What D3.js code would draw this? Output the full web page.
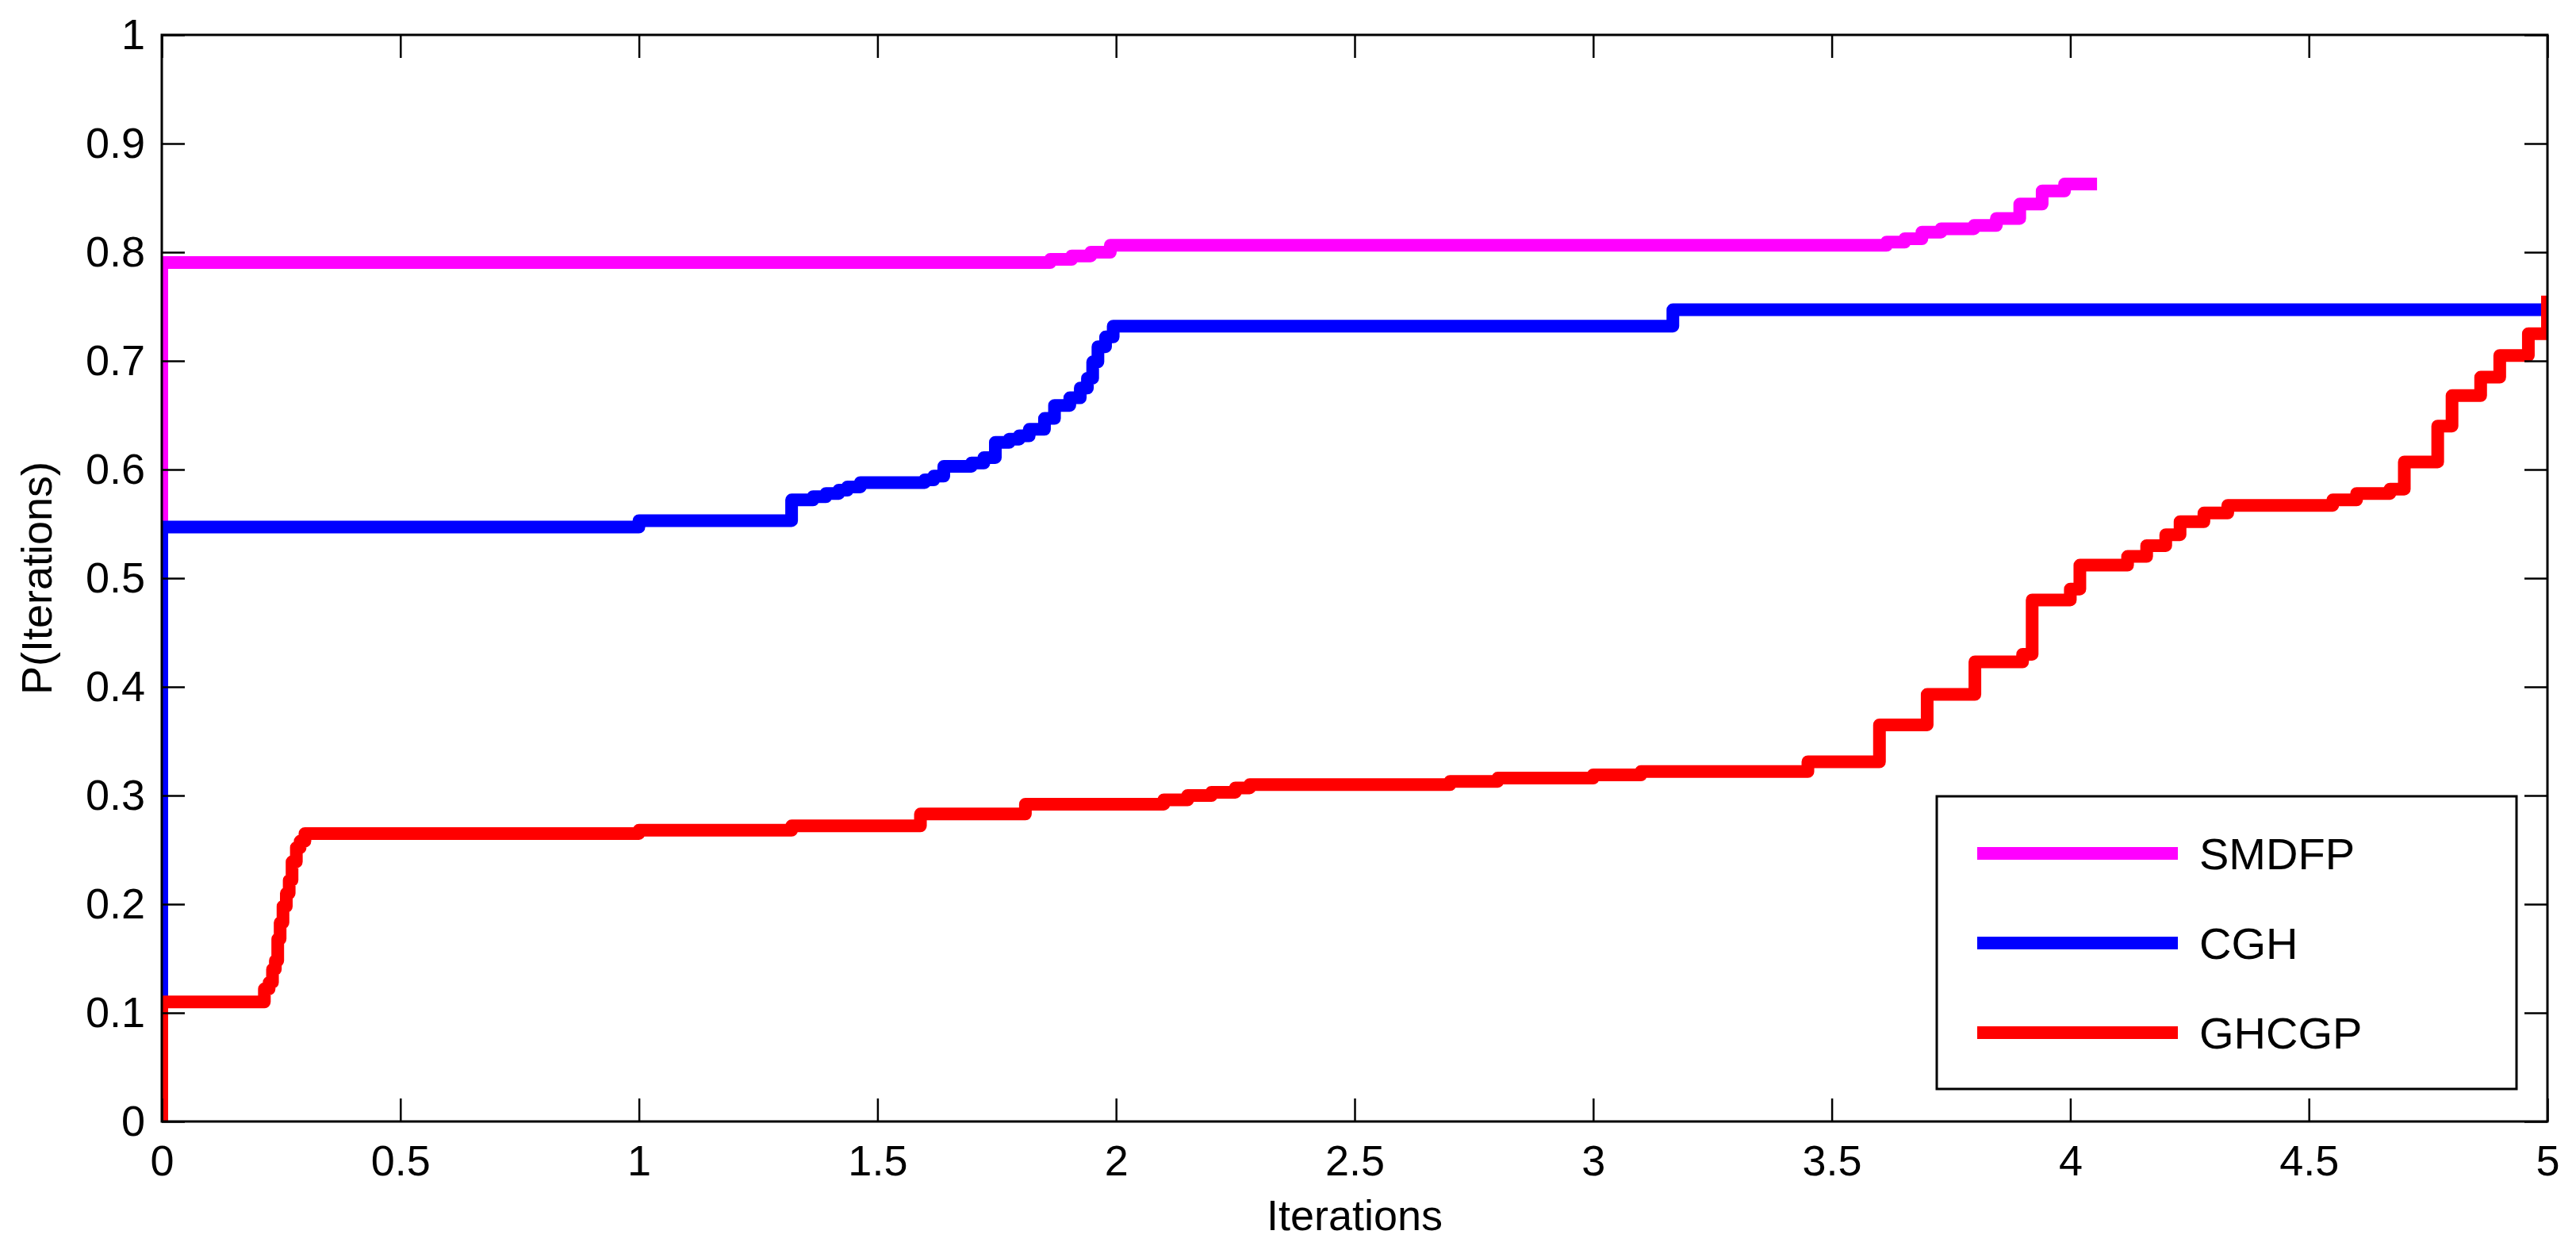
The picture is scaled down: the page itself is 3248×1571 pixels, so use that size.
<!DOCTYPE html>
<html>
<head>
<meta charset="utf-8">
<script src="https://cdn.jsdelivr.net/npm/d3@7"></script>
<style>
  body { margin: 0; background: #fff; }
  text { font-family: "Liberation Sans", Arial, sans-serif; fill: #000; }
</style>
</head>
<body>
<div id="chart"></div>
<script>
// chart size and plot box
var width = 3248;
var height = 1571;
var margin = { left: 204, right: 36, top: 44, bottom: 157 };

// tick values
var xTicks = [0, 0.5, 1, 1.5, 2, 2.5, 3, 3.5, 4, 4.5, 5];
var yTicks = [0, 0.1, 0.2, 0.3, 0.4, 0.5, 0.6, 0.7, 0.8, 0.9, 1];

// series names and colours (legend order)
var seriesNames = ["SMDFP", "CGH", "GHCGP"];
var seriesColors = ["#ff00ff", "#0000ff", "#ff0000"];

// SMDFP step points
var smdfpX = [0, 0, 1.862, 1.907, 1.947, 1.988, 3.615, 3.653, 3.689, 3.729, 3.798, 3.845, 3.894, 3.941, 3.988, 4.056];
var smdfpP = [0, 0.7905, 0.7934, 0.7966, 0.800, 0.8064, 0.8093, 0.8124, 0.8185, 0.8216, 0.8246, 0.8311, 0.8443, 0.8564, 0.8628, 0.8628];

// CGH step points
var cghX = [0, 0, 1.0, 1.32, 1.365, 1.392, 1.419, 1.437, 1.464, 1.599, 1.618, 1.639, 1.697, 1.723, 1.747, 1.776, 1.797, 1.818, 1.850, 1.871, 1.903, 1.925, 1.940, 1.951, 1.962, 1.978, 1.994, 3.167, 5.0];
var cghP = [0, 0.547, 0.553, 0.572, 0.575, 0.578, 0.581, 0.584, 0.588, 0.5905, 0.594, 0.603, 0.606, 0.611, 0.625, 0.628, 0.631, 0.637, 0.647, 0.659, 0.666, 0.675, 0.684, 0.699, 0.713, 0.722, 0.732, 0.747, 0.747];

// GHCGP step points
var ghcgpX = [0, 0, 0.215, 0.225, 0.232, 0.238, 0.243, 0.248, 0.254, 0.261, 0.267, 0.273, 0.282, 0.29, 0.30, 1.0, 1.32, 1.59, 1.81, 2.1, 2.15, 2.2, 2.25, 2.28, 2.7, 2.8, 3.0, 3.1, 3.45, 3.6, 3.7, 3.8, 3.9, 3.92, 4.0, 4.02, 4.12, 4.16, 4.2, 4.23, 4.28, 4.33, 4.55, 4.6, 4.67, 4.7, 4.77, 4.8, 4.86, 4.9, 4.96, 5.0];
var ghcgpP = [0, 0.110, 0.122, 0.128, 0.14, 0.148, 0.168, 0.183, 0.198, 0.21, 0.222, 0.239, 0.252, 0.258, 0.265, 0.268, 0.272, 0.283, 0.292, 0.296, 0.300, 0.303, 0.307, 0.31, 0.313, 0.316, 0.319, 0.322, 0.331, 0.365, 0.393, 0.423, 0.43, 0.48, 0.49, 0.512, 0.52, 0.53, 0.54, 0.552, 0.56, 0.567, 0.572, 0.578, 0.582, 0.607, 0.64, 0.668, 0.685, 0.705, 0.725, 0.76];

var seriesX = [smdfpX, cghX, ghcgpX];
var seriesP = [smdfpP, cghP, ghcgpP];

var plotW = width - margin.left - margin.right;
var plotH = height - margin.top - margin.bottom;
var fontSize = 54;

var svg = d3.select("#chart")
    .append("svg")
    .attr("width", width)
    .attr("height", height);

svg.append("rect")
    .attr("width", width)
    .attr("height", height)
    .attr("fill", "#fff");

var g = svg.append("g")
    .attr("transform", "translate(" + margin.left + "," + margin.top + ")");

var x = d3.scaleLinear().domain([0, 5]).range([0, plotW]);
var y = d3.scaleLinear().domain([0, 1]).range([plotH, 0]);
var fmt = d3.format("~g");

// clip the lines to the axes box
g.append("clipPath")
    .attr("id", "plotClip")
    .append("rect")
    .attr("width", plotW)
    .attr("height", plotH);

// step lines
var line = d3.line()
    .x(function (d) { return x(d[0]); })
    .y(function (d) { return y(d[1]); })
    .curve(d3.curveStepAfter);

seriesNames.forEach(function (name, i) {
    var pts = seriesX[i].map(function (v, j) { return [v, seriesP[i][j]]; });
    g.append("path")
        .datum(pts)
        .attr("clip-path", "url(#plotClip)")
        .attr("d", line)
        .attr("fill", "none")
        .attr("stroke", seriesColors[i])
        .attr("stroke-width", 16)
        .attr("stroke-linejoin", "round");
});

// axes with inward ticks on all four sides
function styleAxis(sel) {
    sel.select(".domain").remove();
    sel.selectAll(".tick line").attr("stroke", "#000").attr("stroke-width", 2.5);
    sel.selectAll("text")
        .attr("font-family", "'Liberation Sans', Arial, sans-serif")
        .attr("font-size", fontSize)
        .attr("fill", "#000");
}

g.append("g")
    .attr("transform", "translate(0," + plotH + ")")
    .call(d3.axisBottom(x).tickValues(xTicks).tickFormat(fmt).tickSize(-29).tickPadding(30))
    .call(styleAxis);

g.append("g")
    .call(d3.axisTop(x).tickValues(xTicks).tickFormat("").tickSize(-29))
    .call(styleAxis);

g.append("g")
    .call(d3.axisLeft(y).tickValues(yTicks).tickFormat(fmt).tickSize(-29).tickPadding(21))
    .call(styleAxis);

g.append("g")
    .attr("transform", "translate(" + plotW + ",0)")
    .call(d3.axisRight(y).tickValues(yTicks).tickFormat("").tickSize(-29))
    .call(styleAxis);

// axes box
g.append("rect")
    .attr("width", plotW)
    .attr("height", plotH)
    .attr("fill", "none")
    .attr("stroke", "#000")
    .attr("stroke-width", 3);

// axis titles
svg.append("text")
    .attr("x", margin.left + plotW / 2)
    .attr("y", 1551)
    .attr("text-anchor", "middle")
    .attr("font-size", fontSize)
    .text("Iterations");

svg.append("text")
    .attr("transform", "translate(65," + (margin.top + plotH / 2) + ") rotate(-90)")
    .attr("text-anchor", "middle")
    .attr("font-size", fontSize)
    .text("P(Iterations)");

// legend
var legend = svg.append("g").attr("transform", "translate(2442,1004)");

legend.append("rect")
    .attr("width", 731)
    .attr("height", 369)
    .attr("fill", "#fff")
    .attr("stroke", "#000")
    .attr("stroke-width", 3);

seriesNames.forEach(function (name, i) {
    var ly = 72 + i * 113;
    legend.append("line")
        .attr("x1", 51)
        .attr("x2", 304)
        .attr("y1", ly)
        .attr("y2", ly)
        .attr("stroke", seriesColors[i])
        .attr("stroke-width", 16);
    legend.append("text")
        .attr("x", 331)
        .attr("y", ly)
        .attr("dy", "0.36em")
        .attr("font-size", 56)
        .text(name);
});
</script>
</body>
</html>
